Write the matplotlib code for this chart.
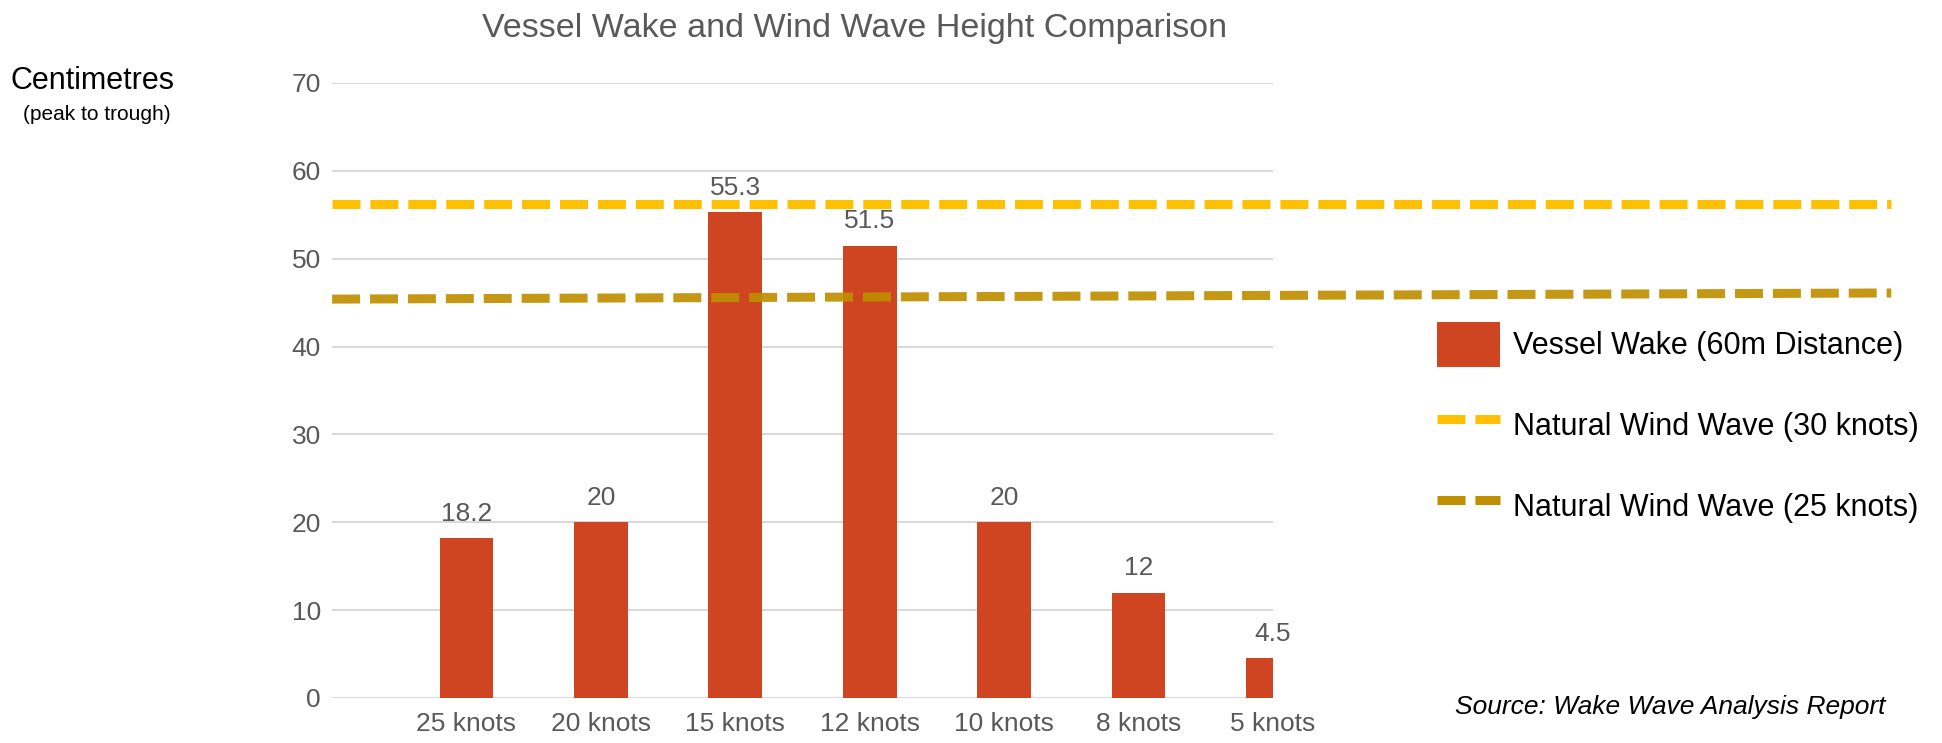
import matplotlib.pyplot as plt
from matplotlib.patches import Patch
from matplotlib.lines import Line2D

plt.rcParams['font.family'] = ['Liberation Sans', 'DejaVu Sans']

# Vessel wake heights by vessel speed (cm, peak to trough)
speeds = ['25 knots', '20 knots', '15 knots', '12 knots', '10 knots', '8 knots', '5 knots']
wake_cm = [18.2, 20, 55.3, 51.5, 20, 12, 4.5]

# Natural wind wave reference lines (start / end values)
line_x = [-1, 10.6]
wind30_cm = [56.2, 56.2]
wind25_cm = [45.4, 46.1]

y_ticks = [0, 10, 20, 30, 40, 50, 60, 70]

BAR_COLOR = '#D04521'
YELLOW = '#FFC000'
GOLD = '#BF8F00'
GRAY_TEXT = '#595959'

fig = plt.figure(figsize=(19.42, 7.43), dpi=100)
ax = fig.add_axes([0.171, 0.0606, 0.4845, 0.8277])

x = list(range(len(speeds)))
bars = ax.bar(x, wake_cm, width=0.4, color=BAR_COLOR, zorder=2)

for xi, val in zip(x, wake_cm):
    label = f"{val:g}"
    ax.annotate(label, (xi, val), xytext=(0, 17.5), textcoords='offset points',
                ha='center', va='center', fontsize=19, color=GRAY_TEXT,
                annotation_clip=False)

dash = dict(lw=6.5, dashes=(3.1, 1.1), solid_capstyle='butt', dash_capstyle='butt')
ax.plot(line_x, wind30_cm, color=YELLOW, clip_on=False, zorder=3, **dash)
ax.plot(line_x, wind25_cm, color=GOLD, clip_on=False, zorder=3, alpha=0.92, **dash)

ax.set_xlim(-1, 6)
ax.set_ylim(0, 70)
ax.set_xticks(x)
ax.set_xticklabels(speeds)
ax.set_yticks(y_ticks)
ax.tick_params(axis='both', length=0, labelsize=19, labelcolor=GRAY_TEXT)
ax.tick_params(axis='x', pad=10)
ax.tick_params(axis='y', pad=8)
ax.yaxis.grid(True, color='#D9D9D9', lw=1.5)
ax.set_axisbelow(True)
for spine in ax.spines.values():
    spine.set_visible(False)

fig.text(0.44, 1 - 28 / 743, 'Vessel Wake and Wind Wave Height Comparison',
         ha='center', va='center', fontsize=24.5, color=GRAY_TEXT)
fig.text(10 / 1942, 1 - 81 / 743, 'Centimetres', ha='left', va='center',
         fontsize=22, color='black')
fig.text(97 / 1942, 1 - 114 / 743, '(peak to trough)', ha='center', va='center',
         fontsize=15, color='black')

handles = [
    Patch(facecolor=BAR_COLOR, label='Vessel Wake (60m Distance)'),
    Line2D([], [], color=YELLOW, label='Natural Wind Wave (30 knots)', **dash),
    Line2D([], [], color=GOLD, label='Natural Wind Wave (25 knots)', **dash),
]
fig.legend(handles=handles, loc='upper left', bbox_to_anchor=(1437 / 1942, 1 - 322 / 743),
           frameon=False, fontsize=22, handlelength=2.06, handleheight=1.9,
           handletextpad=0.42, labelspacing=1.17, borderpad=0, borderaxespad=0)

fig.text(1455 / 1942, 1 - 707 / 743, 'Source: Wake Wave Analysis Report',
         ha='left', va='center', fontsize=19, style='italic', color='black')

fig.savefig('out.png', dpi=100)
